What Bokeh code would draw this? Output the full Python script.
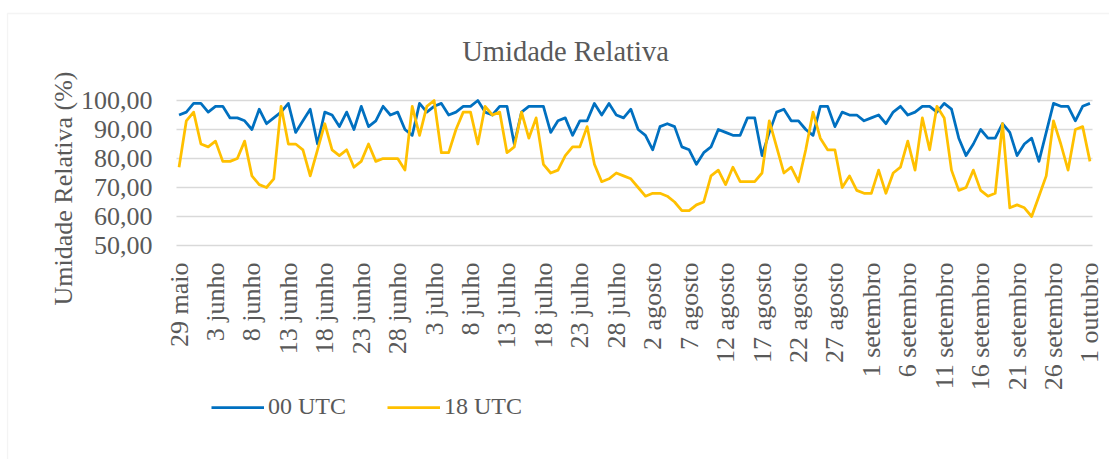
import math
from bokeh.plotting import figure
from bokeh.models import (Legend, LegendItem, Label, BoxAnnotation,
                          ColumnDataSource, Range1d)
from bokeh.core.properties import value
from bokeh.embed import file_html
from bokeh.resources import INLINE

# ---------------- data ----------------
tick_labels = ["29 maio", "3 junho", "8 junho", "13 junho", "18 junho", "23 junho",
               "28 junho", "3 julho", "8 julho", "13 julho", "18 julho", "23 julho",
               "28 julho", "2 agosto", "7 agosto", "12 agosto", "17 agosto",
               "22 agosto", "27 agosto", "1 setembro", "6 setembro", "11 setembro",
               "16 setembro", "21 setembro", "26 setembro", "1 outubro"]

ur_00utc = [95, 96, 99, 99, 96, 98, 98, 94, 94, 93,
            90, 97, 92, 94, 96, 99, 89, 93, 97, 85,
            96, 95, 91, 96, 90, 98, 91, 93, 98, 95,
            96, 90, 88, 99, 96, 98, 99, 95, 96, 98,
            98, 100, 96, 95, 98, 98, 85, 96, 98, 98,
            98, 89, 93, 94, 88, 93, 93, 99, 95, 99,
            95, 94, 97, 90, 88, 83, 91, 92, 91, 84,
            83, 78, 82, 84, 90, 89, 88, 88, 94, 94,
            81, 89, 96, 97, 93, 93, 90, 88, 98, 98,
            91, 96, 95, 95, 93, 94, 95, 92, 96, 98,
            95, 96, 98, 98, 96, 99, 97, 87, 81, 85,
            90, 87, 87, 92, 89, 81, 85, 87, 79, 89,
            99, 98, 98, 93, 98, 99]

ur_18utc = [77, 93, 96, 85, 84, 86, 79, 79, 80, 86,
            74, 71, 70, 73, 98, 85, 85, 83, 74, 83,
            92, 83, 81, 83, 77, 79, 85, 79, 80, 80,
            80, 76, 98, 88, 98, 100, 82, 82, 90, 96,
            96, 85, 98, 95, 96, 82, 84, 96, 87, 94,
            78, 75, 76, 81, 84, 84, 91, 78, 72, 73,
            75, 74, 73, 70, 67, 68, 68, 67, 65, 62,
            62, 64, 65, 74, 76, 71, 77, 72, 72, 72,
            75, 93, 84, 75, 77, 72, 83, 96, 87, 83,
            83, 70, 74, 69, 68, 68, 76, 68, 75, 77,
            86, 76, 94, 83, 98, 94, 76, 69, 70, 76,
            69, 67, 68, 92, 63, 64, 63, 60, 67, 74,
            93, 85, 76, 90, 91, 79]

y_ticks = [50, 60, 70, 80, 90, 100]
y_tick_labels = ["50,00", "60,00", "70,00", "80,00", "90,00", "100,00"]
series_names = ["00 UTC", "18 UTC"]
chart_title = "Umidade Relativa"
y_title = "Umidade Relativa (%)"

# ---------------- layout (pixels) ----------------
W, H = 1109, 459
PLOT_LEFT, PLOT_RIGHT = 176.0, 1092.0     # plot area, page pixels
PLOT_TOP, PLOT_BOTTOM = 100.0, 245.0
PAD = 0.35                                 # category padding at each end

FONT = "Liberation Serif"
TXT = "#595959"
BLUE = "#0070C0"
YELLOW = "#FFC000"
GRID = "#d9d9d9"

days = list(range(len(ur_00utc)))
x_lo, x_hi = days[0] - PAD, days[-1] + PAD
y_lo, y_hi = y_ticks[0], y_ticks[-1]
px_x = (PLOT_RIGHT - PLOT_LEFT) / (x_hi - x_lo)
px_y = (PLOT_BOTTOM - PLOT_TOP) / (y_hi - y_lo)
x_range = Range1d(x_lo - PLOT_LEFT / px_x, x_hi + (W - PLOT_RIGHT) / px_x)
y_range = Range1d(y_lo - (H - PLOT_BOTTOM) / px_y, y_hi + PLOT_TOP / px_y)

p = figure(width=W, height=H, output_backend="svg", toolbar_location=None,
           x_range=x_range, y_range=y_range, x_axis_type=None, y_axis_type=None,
           min_border=0)
p.outline_line_color = None
p.background_fill_color = "white"
p.border_fill_color = "white"
p.xgrid.visible = False
p.ygrid.visible = False

# gridlines of the value axis
p.segment(x0=[x_lo] * len(y_ticks), x1=[x_hi] * len(y_ticks), y0=y_ticks, y1=y_ticks,
          line_color=GRID, line_width=1.3)

# series
src = ColumnDataSource(dict(day=days, a=ur_00utc, b=ur_18utc))
r1 = p.line("day", "a", source=src, line_color=BLUE, line_width=2.75, line_join="round")
r2 = p.line("day", "b", source=src, line_color=YELLOW, line_width=2.75, line_join="round")

# value axis tick labels
p.text(x=[x_lo] * len(y_ticks), y=y_ticks, text=y_tick_labels, x_offset=-24,
       text_align="right", text_baseline="middle", text_font=value(FONT),
       text_font_size="26px", text_color=TXT)

# category axis tick labels (every 5 days, vertical)
tick_pos = list(range(0, len(days), 5))
p.text(x=tick_pos, y=[y_lo] * len(tick_pos), text=tick_labels, y_offset=17,
       angle=math.pi / 2, text_align="right", text_baseline="middle",
       text_font=value(FONT), text_font_size="26px", text_color=TXT)

# chart title and value-axis title (screen units: x from left, y from bottom)
p.add_layout(Label(x=565, y=H - 51, x_units="screen", y_units="screen",
                   text=chart_title, text_font=FONT, text_font_size="28.5px",
                   text_color=TXT, text_align="center", text_baseline="middle"))
p.add_layout(Label(x=63, y=H - 188, x_units="screen", y_units="screen",
                   text=y_title, text_font=FONT, text_font_size="26px",
                   text_color=TXT, text_align="center", text_baseline="middle",
                   angle=math.pi / 2))

# legend
legend = Legend(items=[LegendItem(label=series_names[0], renderers=[r1]),
                       LegendItem(label=series_names[1], renderers=[r2])],
                orientation="horizontal", location=(211, 39),
                glyph_width=53, glyph_height=24, label_standoff=4, spacing=41,
                padding=0, margin=0, border_line_color=None,
                background_fill_alpha=0,
                label_text_font=FONT, label_text_font_size="24px",
                label_text_color=TXT)
p.add_layout(legend)

# chart area border
p.add_layout(BoxAnnotation(left=7, right=W + 50, top=H - 13, bottom=-50,
                           left_units="screen", right_units="screen",
                           top_units="screen", bottom_units="screen",
                           fill_alpha=0, line_color=GRID, line_width=1.3))

open("out.html", "w").write(file_html(p, INLINE))
